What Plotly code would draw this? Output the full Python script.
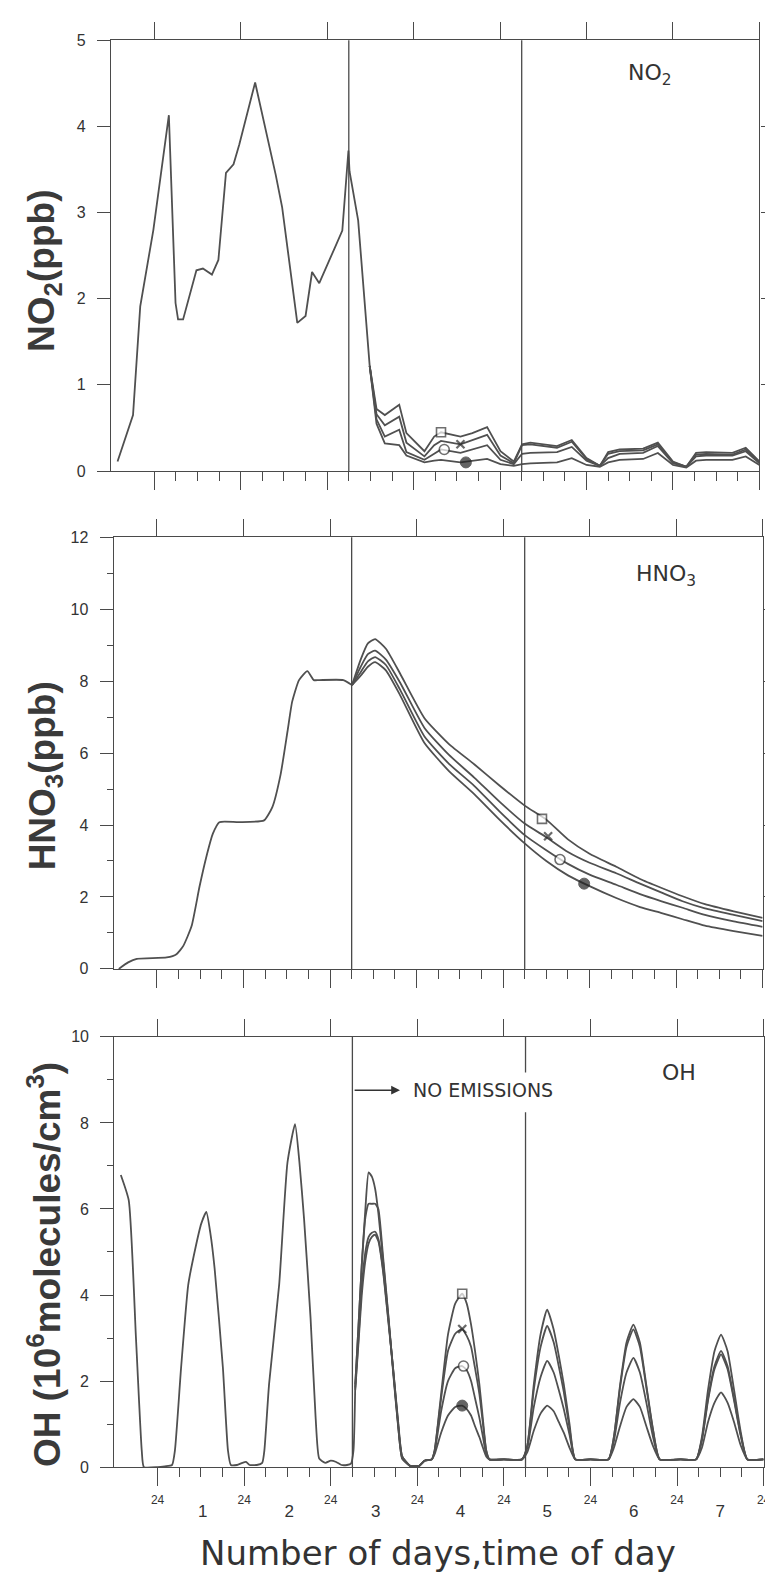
import plotly.graph_objects as go

# ---------------------------------------------------------------- data
# x values are hours counted from the first midnight (day 1 = 0..24 h)
midnight_hours = [0, 24, 48, 72, 96, 120, 144, 168]
midnight_labels = ["24", "24", "24", "24", "24", "24", "24", "24"]
quarter_hours = [6, 12, 18, 30, 36, 42, 54, 60, 66, 78, 84, 90,
                 102, 108, 114, 126, 132, 138, 150, 156, 162]
day_label_hours = [12.5, 36.5, 60.5, 84.0, 108.0, 132.0, 156.0]
day_labels = ["1", "2", "3", "4", "5", "6", "7"]
event_hours = [54, 102]

# ---- NO2 (ppb)
no2_hours_common = [-10.2, -5.9, -3.9, -0.25, 4.05, 5.9, 6.6, 8.0, 11.7, 13.5, 16.0, 17.8,
                    19.9, 22.0, 23.6, 28.0, 33.7, 35.5, 39.7, 42.0, 43.8, 45.8, 50.2, 52.2,
                    53.9, 54.2, 56.6, 59.8]
no2_common = [0.11, 0.65, 1.91, 2.8, 4.13, 1.95, 1.76, 1.76, 2.33, 2.35, 2.28, 2.45,
              3.46, 3.56, 3.79, 4.51, 3.44, 3.06, 1.72, 1.80, 2.31, 2.18, 2.60, 2.79,
              3.72, 3.48, 2.91, 1.22]
no2_hours_split = [59.8, 61.7, 64.0, 68.0, 70.0, 75.0, 77.7, 79.6, 85.0, 88.3, 92.4, 96.1,
                   99.8, 102.1, 104.4, 111.8, 115.9, 120.0, 123.7, 126.0, 129.2, 135.7,
                   139.8, 144.0, 147.7, 150.4, 153.2, 160.5, 164.2, 168.0]
no2_square = [1.22, 0.72, 0.65, 0.77, 0.44, 0.23, 0.40, 0.45, 0.40, 0.44, 0.51, 0.23,
              0.11, 0.31, 0.33, 0.29, 0.36, 0.15, 0.06, 0.22, 0.25, 0.26,
              0.33, 0.11, 0.05, 0.21, 0.22, 0.21, 0.27, 0.11]
no2_cross = [1.22, 0.66, 0.53, 0.63, 0.33, 0.17, 0.30, 0.35, 0.31, 0.36, 0.42, 0.18,
             0.09, 0.30, 0.31, 0.27, 0.34, 0.14, 0.06, 0.20, 0.23, 0.24,
             0.31, 0.10, 0.05, 0.19, 0.20, 0.19, 0.25, 0.10]
no2_open = [1.22, 0.60, 0.40, 0.48, 0.22, 0.13, 0.20, 0.25, 0.21, 0.25, 0.30, 0.13,
            0.08, 0.20, 0.21, 0.22, 0.28, 0.12, 0.06, 0.15, 0.20, 0.21,
            0.29, 0.09, 0.05, 0.17, 0.18, 0.18, 0.23, 0.09]
no2_filled = [1.22, 0.55, 0.32, 0.30, 0.18, 0.10, 0.12, 0.13, 0.10, 0.12, 0.14, 0.08,
              0.06, 0.08, 0.09, 0.10, 0.15, 0.07, 0.05, 0.10, 0.13, 0.14,
              0.21, 0.07, 0.04, 0.12, 0.13, 0.13, 0.17, 0.07]
no2_marker_hours = [79.6, 85.0, 80.5, 86.5]
no2_marker_values = [0.45, 0.31, 0.25, 0.10]

# ---- HNO3 (ppb)
hno3_hours_common = [-10.6, -8.0, -5.6, 2.7, 5.4, 7.3, 9.6, 11.8, 13.7, 15.5, 17.3, 22.8,
                     29.7, 32.0, 34.3, 36.2, 37.5, 39.4, 41.7, 43.5, 45.0, 51.7, 54.1]
hno3_common = [0.0, 0.18, 0.28, 0.32, 0.41, 0.64, 1.19, 2.29, 3.12, 3.76, 4.08, 4.08,
               4.13, 4.5, 5.41, 6.6, 7.43, 8.03, 8.28, 8.03, 8.03, 8.03, 7.89]
hno3_hours_split = [54.1, 56.5, 58.5, 60.5, 63.5, 67.5, 74.2, 81.0, 88.0, 95.0, 102.0,
                    108.0, 114.0, 120.0, 127.4, 134.0, 140.0, 145.8, 152.0, 160.0, 168.0]
hno3_square = [7.89, 8.6, 9.05, 9.17, 8.9, 8.2, 6.97, 6.25, 5.69, 5.1, 4.54,
               4.15, 3.6, 3.2, 2.84, 2.5, 2.25, 2.02, 1.8, 1.6, 1.42]
hno3_cross = [7.89, 8.4, 8.75, 8.85, 8.6, 7.95, 6.70, 5.95, 5.32, 4.65, 4.04,
              3.66, 3.25, 2.95, 2.66, 2.37, 2.12, 1.88, 1.68, 1.5, 1.33]
hno3_open = [7.89, 8.25, 8.55, 8.67, 8.45, 7.75, 6.46, 5.7, 5.09, 4.38, 3.72,
             3.3, 2.92, 2.62, 2.34, 2.08, 1.88, 1.70, 1.5, 1.32, 1.17]
hno3_filled = [7.89, 8.15, 8.4, 8.53, 8.3, 7.6, 6.28, 5.5, 4.86, 4.15, 3.49,
               3.0, 2.6, 2.3, 1.97, 1.72, 1.55, 1.38, 1.2, 1.05, 0.92]
hno3_marker_hours = [106.8, 108.5, 111.8, 118.5]
hno3_marker_values = [4.17, 3.69, 3.04, 2.37]

# ---- OH (10^6 molecules/cm3)
oh_hours_common = [-10.2, -8.0, -6.0, -4.4, -3.8, 0.0, 2.0, 4.0, 4.8, 6.5, 8.5, 10.5,
                   12.1, 13.5, 14.6, 15.8, 18.1, 19.5, 20.3, 22.0, 23.5, 24.5, 25.5, 27.5,
                   29.0, 29.6, 30.9, 33.7, 36.0, 38.1, 39.3, 40.6, 42.4, 43.8, 44.8, 46.5,
                   48.0, 49.5, 51.0, 52.5, 53.6, 54.3, 54.8]
oh_common = [6.79, 6.20, 3.0, 0.39, 0.0, 0.0, 0.02, 0.05, 0.39, 2.3, 4.24, 5.1,
             5.66, 5.93, 5.45, 4.62, 2.31, 0.39, 0.05, 0.05, 0.1, 0.12, 0.05, 0.05,
             0.1, 0.39, 1.93, 4.24, 7.08, 7.97, 7.1, 5.77, 3.47, 1.16, 0.2, 0.1,
             0.15, 0.12, 0.05, 0.05, 0.08, 0.39, 1.93]
oh_hours_split = [54.8, 55.7, 56.6, 57.6, 58.5, 59.4, 60.3, 61.2, 62.5, 64.0, 65.4, 66.7,
                  67.8, 70.0, 72.5, 74.0, 76.0,
                  76.8, 78.6, 80.5, 82.5, 84.45, 85.7, 86.9, 88.0, 89.2, 90.2, 91.1, 92.0, 96.0,
                  101.0, 102.5, 104.3, 106.2, 108.0, 109.8, 111.2, 112.6, 114.2, 115.8, 120.0,
                  125.0, 126.5, 128.2, 130.0, 131.9, 133.7, 135.5, 137.3, 139.2, 145.0,
                  149.3, 150.9, 152.6, 154.4, 156.2, 158.0, 159.8, 161.6, 163.5, 168.0]
oh_square = [1.93, 3.3, 4.7, 6.0, 6.85, 6.75, 6.47, 5.9, 4.8, 3.47, 2.1, 0.93,
             0.2, 0.03, 0.03, 0.15, 0.18,
             0.39, 1.7, 3.08, 3.8, 4.03, 3.8, 3.31, 2.7, 1.93, 1.1, 0.39, 0.18, 0.18,
             0.18, 0.5, 1.93, 3.1, 3.66, 3.2, 2.6, 1.93, 1.0, 0.18, 0.18,
             0.18, 0.7, 1.9, 2.9, 3.31, 2.9, 1.9, 0.9, 0.18, 0.18,
             0.18, 0.7, 1.8, 2.7, 3.08, 2.7, 1.8, 0.85, 0.18, 0.18]
oh_cross = [1.93, 3.3, 4.7, 5.8, 6.12, 6.12, 6.12, 6.0, 4.9, 3.5, 2.15, 0.95,
            0.2, 0.03, 0.03, 0.15, 0.18,
            0.39, 1.6, 2.7, 3.1, 3.21, 3.05, 2.8, 2.3, 1.7, 1.0, 0.39, 0.18, 0.18,
            0.18, 0.5, 1.8, 2.8, 3.28, 2.9, 2.35, 1.75, 0.9, 0.18, 0.18,
            0.18, 0.7, 1.85, 2.8, 3.20, 2.8, 1.85, 0.88, 0.18, 0.18,
            0.18, 0.65, 1.6, 2.35, 2.70, 2.35, 1.6, 0.78, 0.18, 0.18]
oh_open = [1.85, 3.0, 4.2, 5.0, 5.35, 5.45, 5.47, 5.3, 4.6, 3.4, 2.2, 1.0,
           0.25, 0.03, 0.03, 0.15, 0.18,
           0.35, 1.3, 2.0, 2.3, 2.35, 2.25, 2.0, 1.6, 1.15, 0.7, 0.3, 0.18, 0.18,
           0.18, 0.45, 1.4, 2.1, 2.47, 2.2, 1.8, 1.35, 0.75, 0.18, 0.18,
           0.18, 0.6, 1.5, 2.2, 2.54, 2.2, 1.5, 0.72, 0.18, 0.18,
           0.18, 0.62, 1.55, 2.28, 2.62, 2.28, 1.55, 0.75, 0.18, 0.18]
oh_filled = [1.8, 2.9, 4.0, 4.8, 5.2, 5.35, 5.4, 5.25, 4.55, 3.35, 2.2, 1.05,
             0.25, 0.03, 0.03, 0.15, 0.18,
             0.3, 0.8, 1.2, 1.4, 1.43, 1.35, 1.2, 0.95, 0.7, 0.45, 0.25, 0.18, 0.18,
             0.18, 0.35, 0.85, 1.25, 1.43, 1.3, 1.05, 0.8, 0.45, 0.18, 0.18,
             0.18, 0.45, 0.95, 1.4, 1.58, 1.4, 0.95, 0.5, 0.18, 0.18,
             0.18, 0.45, 1.05, 1.5, 1.74, 1.5, 1.05, 0.52, 0.18, 0.18]
oh_marker_hours = [84.45, 84.45, 84.8, 84.45]
oh_marker_values = [4.03, 3.21, 2.35, 1.43]

# ---------------------------------------------------------------- styling
FIG_W, FIG_H = 773, 1573
LINE = "#505050"
AX = "#4a4a4a"
TXT = "#333333"
TICK_FONT = dict(family="Liberation Sans", size=16, color=TXT)

panels = [
    dict(left=104.0, right=758.3, top=24.5, bottom=460.0, ymax=5, shape="linear",
         major=[0, 1, 2, 3, 4, 5], minor=[], right_ticks=[1, 2, 3, 4]),
    dict(left=106.7, right=761.5, top=527.0, bottom=963.3, ymax=12, shape="spline",
         major=[0, 2, 4, 6, 8, 10, 12], minor=[1, 3, 5, 7, 9, 11], right_ticks=[2, 4, 6, 8, 10]),
    dict(left=107.3, right=762.5, top=1032.0, bottom=1467.0, ymax=10, shape="spline",
         major=[0, 2, 4, 6, 8, 10], minor=[1, 3, 5, 7, 9], right_ticks=[2, 4, 6, 8]),
]
x_main = ["x", "x3", "x5"]
x_top = ["x2", "x4", "x6"]
y_main = ["y", "y3", "y5"]
y_right = ["y2", "y4", "y6"]


def key(axid):
    return ("xaxis" if axid[0] == "x" else "yaxis") + axid[1:]


fig = go.Figure()


def add_line(x, y, xa, ya, shape):
    line = dict(color=LINE, width=1.8, shape=shape)
    if shape == "spline":
        line["smoothing"] = 0.5
    fig.add_trace(go.Scatter(x=x, y=y, xaxis=xa, yaxis=ya, mode="lines",
                             line=line, showlegend=False, hoverinfo="skip"))


def add_markers(x, y, xa, ya):
    fig.add_trace(go.Scatter(
        x=x, y=y, xaxis=xa, yaxis=ya, mode="markers", showlegend=False, hoverinfo="skip",
        marker=dict(symbol=["square", "x-thin", "circle", "circle"],
                    size=[9, 8, 10, 11],
                    color=["white", "#2a2a2a", "white", "#222222"],
                    line=dict(color=["#333333", "#2a2a2a", "#333333", "#222222"],
                              width=[1.6, 2.2, 1.6, 1]))))


series = [
    (no2_hours_common, no2_common, no2_hours_split,
     [no2_square, no2_cross, no2_open, no2_filled], no2_marker_hours, no2_marker_values),
    (hno3_hours_common, hno3_common, hno3_hours_split,
     [hno3_square, hno3_cross, hno3_open, hno3_filled], hno3_marker_hours, hno3_marker_values),
    (oh_hours_common, oh_common, oh_hours_split,
     [oh_square, oh_cross, oh_open, oh_filled], oh_marker_hours, oh_marker_values),
]

for i, (hc, vc, hs, splits, mh, mv) in enumerate(series):
    shp = panels[i]["shape"]
    add_line(hc, vc, x_main[i], y_main[i], shp)
    for vs in splits:
        add_line(hs, vs, x_main[i], y_main[i], shp)
    add_markers(mh, mv, x_main[i], y_main[i])
    # invisible trace so that the mirrored top / right axes are drawn
    fig.add_trace(go.Scatter(x=[-12], y=[0], xaxis=x_top[i], yaxis=y_right[i], mode="markers",
                             marker=dict(opacity=0), showlegend=False, hoverinfo="skip"))
fig.add_trace(go.Scatter(x=[-12], y=[0], xaxis="x7", yaxis="y5", mode="markers",
                         marker=dict(opacity=0), showlegend=False, hoverinfo="skip"))

layout = dict(width=FIG_W, height=FIG_H, margin=dict(l=0, r=0, t=0, b=0),
              paper_bgcolor="white", plot_bgcolor="white", showlegend=False)

shapes = []
for i, p in enumerate(panels):
    xd = [p["left"] / FIG_W, p["right"] / FIG_W]
    yd = [1 - p["bottom"] / FIG_H, 1 - p["top"] / FIG_H]
    common_ax = dict(showgrid=False, zeroline=False, showline=True, linecolor=AX,
                     linewidth=1.3, tickcolor=AX, tickwidth=1.3, fixedrange=True)
    layout[key(x_main[i])] = dict(
        common_ax, domain=xd, anchor=y_main[i], range=[-12, 168], ticks="outside",
        tickmode="array", tickvals=midnight_hours, ticktext=midnight_labels, ticklen=18,
        showticklabels=(i == 2), ticklabelstandoff=3,
        tickfont=dict(family="Liberation Sans", size=12, color=TXT),
        minor=dict(tickmode="array", tickvals=quarter_hours, ticks="outside", ticklen=9,
                   tickwidth=1.2, tickcolor=AX, showgrid=False))
    layout[key(x_top[i])] = dict(
        common_ax, domain=xd, anchor=y_main[i], overlaying=x_main[i], side="top",
        range=[-12, 168], ticks="outside", tickmode="array", tickvals=midnight_hours,
        ticklen=17, showticklabels=False)
    ymain = dict(common_ax, domain=yd, anchor=x_main[i], range=[0, p["ymax"]],
                 ticks="outside", tickmode="array", tickvals=p["major"], ticklen=13,
                 tickfont=TICK_FONT, ticklabelstandoff=8)
    if p["minor"]:
        ymain["minor"] = dict(tickmode="array", tickvals=p["minor"], ticks="outside",
                              ticklen=6, tickwidth=1.1, tickcolor=AX, showgrid=False)
    layout[key(y_main[i])] = ymain
    layout[key(y_right[i])] = dict(
        common_ax, domain=yd, anchor=x_main[i], overlaying=y_main[i], side="right",
        range=[0, p["ymax"]], ticks="outside", tickmode="array", tickvals=p["right_ticks"],
        ticklen=14, showticklabels=False)
    for h in event_hours:
        if i == 2 and h == 102:
            for y0, y1 in [(0, 8.25), (9.17, 10)]:
                shapes.append(dict(type="line", xref=x_main[i], yref=y_main[i], x0=h, x1=h,
                                   y0=y0, y1=y1, line=dict(color=AX, width=1.3)))
        else:
            shapes.append(dict(type="line", xref=x_main[i], yref=y_main[i] + " domain",
                               x0=h, x1=h, y0=0, y1=1, line=dict(color=AX, width=1.3)))

p3 = panels[2]
layout["xaxis7"] = dict(domain=[p3["left"] / FIG_W, p3["right"] / FIG_W], anchor="y5",
                        overlaying="x5", side="bottom", range=[-12, 168], showline=False,
                        showgrid=False, zeroline=False, ticks="", tickmode="array",
                        tickvals=day_label_hours, ticktext=day_labels,
                        tickfont=dict(family="Liberation Sans", size=17, color=TXT),
                        ticklabelstandoff=32, fixedrange=True)
layout["shapes"] = shapes

title_font = dict(family="Liberation Sans", size=37, color="#3a3a3a")
label_font = dict(family="DejaVu Sans", size=22, color=TXT)
annotations = [
    dict(text="<b>NO<sub>2</sub>(ppb)</b>", xref="paper", yref="paper",
         x=37 / FIG_W, y=1 - 258 / FIG_H, textangle=-90, showarrow=False, font=title_font,
         xanchor="center", yanchor="middle"),
    dict(text="<b>HNO<sub>3</sub>(ppb)</b>", xref="paper", yref="paper",
         x=37 / FIG_W, y=1 - 768 / FIG_H, textangle=-90, showarrow=False, font=title_font,
         xanchor="center", yanchor="middle"),
    dict(text="<b>OH (10<sup>6</sup>molecules/cm<sup>3</sup>)</b>", xref="paper", yref="paper",
         x=37 / FIG_W, y=1 - 1262 / FIG_H, textangle=-90, showarrow=False, font=title_font,
         xanchor="center", yanchor="middle"),
    dict(text="Number of days,time of day", xref="paper", yref="paper",
         x=434 / FIG_W, y=1 - 1554 / FIG_H, showarrow=False,
         font=dict(family="DejaVu Sans", size=34, color="#333333"),
         xanchor="center", yanchor="middle"),
    dict(text="NO<sub>2</sub>", xref="x", yref="y", x=137.7, y=4.6, showarrow=False,
         font=label_font, xanchor="center", yanchor="middle"),
    dict(text="HNO<sub>3</sub>", xref="x3", yref="y3", x=141.1, y=10.95, showarrow=False,
         font=label_font, xanchor="center", yanchor="middle"),
    dict(text="OH", xref="x5", yref="y5", x=144.5, y=9.17, showarrow=False,
         font=label_font, xanchor="center", yanchor="middle"),
    dict(text="", xref="x5", yref="y5", x=67.2, y=8.76, ax=54.2, ay=8.76,
         axref="x5", ayref="y5", showarrow=True, arrowhead=2, arrowsize=1.1,
         arrowwidth=1.6, arrowcolor="#333333"),
    dict(text="NO EMISSIONS", xref="x5", yref="y5", x=70.3, y=8.76, showarrow=False,
         font=dict(family="DejaVu Sans", size=19, color=TXT),
         xanchor="left", yanchor="middle"),
]
layout["annotations"] = annotations

fig.update_layout(**layout)
fig.write_html("out.html")
